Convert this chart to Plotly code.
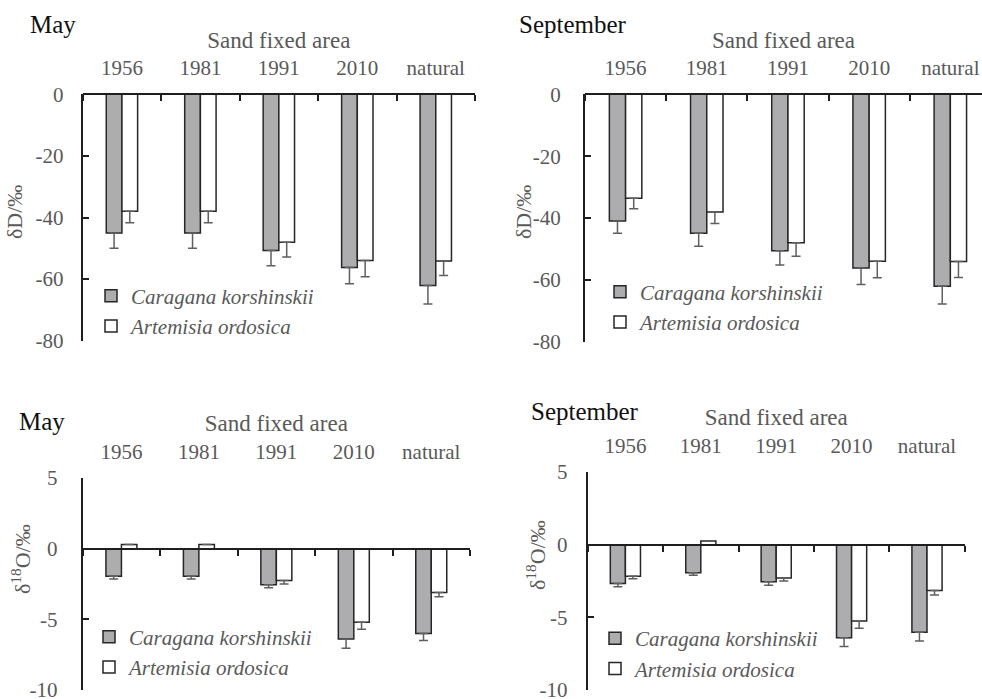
import plotly.graph_objects as go

# Sites (year the sand was fixed) and species
SITES = ["1956", "1981", "1991", "2010", "natural"]
SPECIES = ["Caragana korshinskii", "Artemisia ordosica"]

# δD of xylem water (‰) and standard errors, May
DD_MAY_CK = [-45.0, -45.0, -50.7, -56.2, -62.1]
DD_MAY_CK_ERR = [5.0, 5.0, 5.0, 5.3, 6.0]
DD_MAY_AO = [-38.0, -38.0, -48.0, -54.0, -54.1]
DD_MAY_AO_ERR = [3.7, 3.7, 4.8, 5.2, 4.7]

# δD, September
DD_SEP_CK = [-41.0, -44.9, -50.6, -56.2, -62.1]
DD_SEP_CK_ERR = [3.9, 4.2, 4.6, 5.3, 5.7]
DD_SEP_AO = [-33.6, -38.1, -48.0, -54.0, -54.1]
DD_SEP_AO_ERR = [3.4, 3.7, 4.4, 5.3, 5.1]

# δ18O (‰), May
O18_MAY_CK = [-1.95, -1.95, -2.55, -6.4, -6.0]
O18_MAY_CK_ERR = [0.2, 0.2, 0.22, 0.65, 0.5]
O18_MAY_AO = [0.3, 0.3, -2.25, -5.2, -3.1]
O18_MAY_AO_ERR = [0.0, 0.0, 0.25, 0.5, 0.3]

# δ18O, September
O18_SEP_CK = [-2.67, -1.94, -2.56, -6.4, -6.03]
O18_SEP_CK_ERR = [0.23, 0.16, 0.23, 0.6, 0.6]
O18_SEP_AO = [-2.17, 0.25, -2.3, -5.25, -3.15]
O18_SEP_AO_ERR = [0.18, 0.0, 0.2, 0.5, 0.32]

# Axis ticks
DD_TICKS = [0, -20, -40, -60, -80]
O18_TICKS = [5, 0, -5, -10]

W, H = 982, 699
FONT = "Liberation Serif"
GREY_TXT = "#595959"
AXIS_COL = "#1e1e1e"
BAR_FILL = ["#adadb0", "#ffffff"]
BAR_EDGE = "#262626"
ERR_COL = "#5f5f5f"


def px_x(v):
    return v / W


def px_y(v):
    return 1 - v / H


panels = [
    dict(month="May", data=[(DD_MAY_CK, DD_MAY_CK_ERR), (DD_MAY_AO, DD_MAY_AO_ERR)],
         ticks=DD_TICKS, yr=[-80, 0], xd=(82.7, 475), yd=(94.3, 340.7), xmax=4.5,
         ystand=13, leg=(91, 311), mon=(28, 24), ytitle="δD/‰", yt=(14, 212)),
    dict(month="September", data=[(DD_SEP_CK, DD_SEP_CK_ERR), (DD_SEP_AO, DD_SEP_AO_ERR)],
         ticks=DD_TICKS, yr=[-80, 0], xd=(585, 982), yd=(94.3, 341.7), xmax=4.39,
         ystand=18, leg=(600, 307), mon=(517, 24), ytitle="δD/‰", yt=(523, 212)),
    dict(month="May", data=[(O18_MAY_CK, O18_MAY_CK_ERR), (O18_MAY_AO, O18_MAY_AO_ERR)],
         ticks=O18_TICKS, yr=[-10, 5], xd=(82.7, 470), yd=(478, 690), xmax=4.5,
         ystand=19, leg=(89, 652), mon=(17, 421), ytitle="δ<sup>18</sup>O/‰", yt=(21, 559)),
    dict(month="September", data=[(O18_SEP_CK, O18_SEP_CK_ERR), (O18_SEP_AO, O18_SEP_AO_ERR)],
         ticks=O18_TICKS, yr=[-10, 5], xd=(587.7, 964.7), yd=(472, 690), xmax=4.5,
         ystand=14, leg=(595, 653.5), mon=(529, 411), ytitle="δ<sup>18</sup>O/‰", yt=(536, 555)),
]

fig = go.Figure()
layout = dict(
    width=W, height=H,
    margin=dict(l=0, r=0, t=0, b=0, autoexpand=False),
    paper_bgcolor="white", plot_bgcolor="rgba(0,0,0,0)",
    barmode="group", bargap=0.6, bargroupgap=0,
    font=dict(family=FONT, size=21, color=GREY_TXT),
    annotations=[],
)

boundaries = [i - 0.5 for i in range(len(SITES) + 1)]

for k, p in enumerate(panels, start=1):
    xa = f"x{k}" if k > 1 else "x"
    ya = f"y{k}" if k > 1 else "y"
    xline = f"x{k + 4}"
    leg = "legend" if k == 1 else f"legend{k}"

    for (vals, errs), name, fill in zip(p["data"], SPECIES, BAR_FILL):
        fig.add_trace(go.Bar(
            x=SITES, y=vals, name=name, xaxis=xa, yaxis=ya, legend=leg,
            marker=dict(color=fill, line=dict(color=BAR_EDGE, width=1.5)),
            error_y=dict(type="data", symmetric=False, array=[0] * len(errs),
                         arrayminus=errs, color=ERR_COL, thickness=1.5, width=4.5),
        ))
    # empty trace that carries the category axis line drawn through zero
    fig.add_trace(go.Scatter(x=[], y=[], xaxis=xline, yaxis=ya, showlegend=False,
                             hoverinfo="skip"))

    y0, y1 = p["yr"]
    dom_y = [px_y(p["yd"][1]), px_y(p["yd"][0])]
    zero_pos = dom_y[0] + (0 - y0) / (y1 - y0) * (dom_y[1] - dom_y[0])

    sfx = "" if k == 1 else str(k)
    layout[f"xaxis{sfx}"] = dict(
        domain=[px_x(p["xd"][0]), px_x(p["xd"][1])], anchor=ya, automargin=False,
        type="category", categoryorder="array", categoryarray=SITES,
        range=[-0.5, p["xmax"]], side="top", showline=False, ticks="",
        showgrid=False, zeroline=False, ticklabelstandoff=14,
        tickfont=dict(size=21, color=GREY_TXT),
        title=dict(text="Sand fixed area", font=dict(size=23, color=GREY_TXT), standoff=1),
    )
    layout[f"yaxis{sfx}"] = dict(
        domain=dom_y, anchor=xa, range=p["yr"], automargin=False,
        tickvals=p["ticks"], ticktext=[str(t) for t in p["ticks"]],
        ticks="inside", ticklen=6, tickwidth=1.5, tickcolor=AXIS_COL,
        showline=True, linewidth=2, linecolor=AXIS_COL,
        showgrid=False, zeroline=False, ticklabelstandoff=p["ystand"],
        ticklabeloverflow="allow",
        tickfont=dict(size=21, color=GREY_TXT),
    )
    layout[f"xaxis{k + 4}"] = dict(
        overlaying=xa, anchor="free", position=zero_pos, automargin=False,
        range=[-0.5, p["xmax"]], tickvals=boundaries, showticklabels=False,
        ticks="outside", ticklen=6, tickwidth=1.5, tickcolor=AXIS_COL,
        showline=True, linewidth=2, linecolor=AXIS_COL,
        showgrid=False, zeroline=False,
    )
    layout[leg] = dict(
        x=px_x(p["leg"][0]), y=px_y(p["leg"][1]), xanchor="left", yanchor="middle",
        bgcolor="rgba(0,0,0,0)", tracegroupgap=0,
        font=dict(family="Liberation Serif, DejaVu Serif, serif", size=21,
                  color=GREY_TXT, style="italic"),
    )
    layout["annotations"].append(dict(
        text=p["month"], xref="paper", yref="paper",
        x=px_x(p["mon"][0]), y=px_y(p["mon"][1]), xanchor="left", yanchor="middle",
        showarrow=False, font=dict(family=FONT, size=25, color="#111111"),
    ))
    layout["annotations"].append(dict(
        text=p["ytitle"], xref="paper", yref="paper",
        x=px_x(p["yt"][0]), y=px_y(p["yt"][1]), xanchor="center", yanchor="middle",
        textangle=-90, showarrow=False, font=dict(family=FONT, size=22, color=GREY_TXT),
    ))

fig.update_layout(**layout)
fig.write_html("out.html")
